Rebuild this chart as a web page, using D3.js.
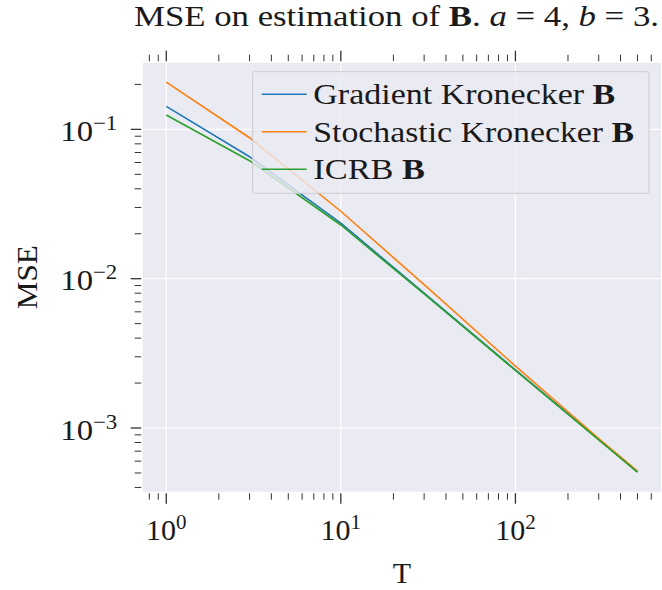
<!DOCTYPE html>
<html>
<head>
<meta charset="utf-8">
<script src="https://cdn.jsdelivr.net/npm/d3@7"></script>
<style>
  body { margin: 0; background: #fff; }
  text { font-family: "Liberation Serif", "DejaVu Serif", serif; fill: #1a1a1a; }
</style>
</head>
<body>
<div id="chart"></div>
<script>
// DATA
const T = [1, 3, 10, 30, 100, 300, 500];
const gradientB = [0.1426, 0.0656, 0.02355, 0.0080, 0.00245, 0.000838, 0.000508];
const stochasticB = [0.207, 0.0879, 0.0283, 0.00912, 0.0026, 0.000851, 0.000515];
const icrbB = [0.1247, 0.0617, 0.0229, 0.0079, 0.00243, 0.000832, 0.000506];

const seriesNames = ["Gradient Kronecker ", "Stochastic Kronecker ", "ICRB "];
const seriesColors = ["#1f77b4", "#ff7f0e", "#2ca02c"];
const seriesValues = [gradientB, stochasticB, icrbB];

const xMajorTicks = [1, 10, 100];
const xMajorExp = ["0", "1", "2"];
const yMajorTicks = [0.1, 0.01, 0.001];
const yMajorExp = ["\u22121", "\u22122", "\u22123"];

// SETUP
const width = 662, height = 590;
const margin = {top: 62.7, right: 1, bottom: 98.3, left: 142.7};
const fontSize = 30;

// widths the serif substitute is stretched to (the original face is wider)
const legendWidths = [302, 320.7, 111.7];

let svg = d3.select("#chart").append("svg")
  .attr("width", width)
  .attr("height", height);

// log domain with 5% padding, like matplotlib
const logPad = (lo, hi) => {
  let a = Math.log10(lo), b = Math.log10(hi), p = (b - a) * 0.05;
  return [Math.pow(10, a - p), Math.pow(10, b + p)];
};
const allY = [].concat(...seriesValues);

let x = d3.scaleLog()
  .domain(logPad(d3.min(T), d3.max(T)))
  .range([margin.left, width - margin.right]);

let y = d3.scaleLog()
  .domain(logPad(d3.min(allY), d3.max(allY)))
  .range([height - margin.bottom, margin.top]);

// all decade ticks (k * 10^e) inside a domain
const logTicks = (dom) => {
  let out = [];
  for (let e = Math.floor(Math.log10(dom[0])); e <= Math.ceil(Math.log10(dom[1])); e++) {
    for (let k = 1; k < 10; k++) {
      let v = k * Math.pow(10, e);
      if (v >= dom[0] && v <= dom[1]) out.push({v: v, major: k === 1});
    }
  }
  return out;
};
const xTicks = logTicks(x.domain());
const yTicks = logTicks(y.domain());

const plotL = x.range()[0], plotR = x.range()[1];
const plotT = y.range()[1], plotB = y.range()[0];

// background
svg.append("rect")
  .attr("x", plotL).attr("y", plotT)
  .attr("width", plotR - plotL).attr("height", plotB - plotT)
  .attr("fill", "#eaeaf2");

// grid
svg.selectAll("line.xgrid")
  .data(xMajorTicks)
  .enter().append("line")
  .attr("x1", d => x(d)).attr("x2", d => x(d))
  .attr("y1", plotT).attr("y2", plotB)
  .attr("stroke", "#fff").attr("stroke-width", 1.2);

svg.selectAll("line.ygrid")
  .data(yMajorTicks)
  .enter().append("line")
  .attr("y1", d => y(d)).attr("y2", d => y(d))
  .attr("x1", plotL).attr("x2", plotR)
  .attr("stroke", "#fff").attr("stroke-width", 1.2);

// ticks, outward on all four sides with a small gap
const gap = 1.5, majorLen = 10.5, minorLen = 6.5;
const tickColor = "#333";

// bottom + top
[[plotB + gap, 1], [plotT - gap, -1]].forEach(([y0, dir]) => {
  svg.append("g").selectAll("line")
    .data(xTicks)
    .enter().append("line")
    .attr("x1", d => x(d.v)).attr("x2", d => x(d.v))
    .attr("y1", y0)
    .attr("y2", d => y0 + dir * (d.major ? majorLen : minorLen))
    .attr("stroke", tickColor)
    .attr("stroke-width", d => d.major ? 1.3 : 1);
});
// left + right
[[plotL - gap, -1], [plotR + gap, 1]].forEach(([x0, dir]) => {
  svg.append("g").selectAll("line")
    .data(yTicks)
    .enter().append("line")
    .attr("y1", d => y(d.v)).attr("y2", d => y(d.v))
    .attr("x1", x0)
    .attr("x2", d => x0 + dir * (d.major ? majorLen : minorLen))
    .attr("stroke", tickColor)
    .attr("stroke-width", d => d.major ? 1.3 : 1);
});

// tick labels
let xLab = svg.selectAll("text.xtick")
  .data(xMajorTicks)
  .enter().append("text")
  .attr("class", "xtick")
  .attr("x", d => x(d))
  .attr("y", 540)
  .style("text-anchor", "middle")
  .style("font-size", fontSize + "px");
xLab.append("tspan").text("10");
xLab.append("tspan").attr("dy", -11).style("font-size", "21px").text((d, i) => xMajorExp[i]);

let yLab = svg.selectAll("text.ytick")
  .data(yMajorTicks)
  .enter().append("text")
  .attr("class", "ytick")
  .attr("x", 117.3)
  .attr("y", d => y(d) + 11.5)
  .style("text-anchor", "end")
  .style("font-size", fontSize + "px")
  .attr("textLength", 57)
  .attr("lengthAdjust", "spacingAndGlyphs");
yLab.append("tspan").text("10");
yLab.append("tspan").attr("dy", -11).style("font-size", "21px").text((d, i) => yMajorExp[i]);

// axis labels
svg.append("text")
  .attr("x", (plotL + plotR) / 2)
  .attr("y", 582.5)
  .style("text-anchor", "middle")
  .style("font-size", fontSize + "px")
  .text("T");

svg.append("text")
  .attr("transform", `translate(37, ${(plotT + plotB) / 2}) rotate(-90)`)
  .style("text-anchor", "middle")
  .style("font-size", fontSize + "px")
  .attr("textLength", 64)
  .attr("lengthAdjust", "spacingAndGlyphs")
  .text("MSE");

// title
let title = svg.append("text")
  .attr("x", 134)
  .attr("y", 26)
  .style("font-size", "29px")
  .attr("textLength", 525)
  .attr("lengthAdjust", "spacingAndGlyphs");
title.append("tspan").text("MSE on estimation of ");
title.append("tspan").style("font-weight", "bold").text("B");
title.append("tspan").text(". ");
title.append("tspan").style("font-style", "italic").text("a");
title.append("tspan").text(" = 4, ");
title.append("tspan").style("font-style", "italic").text("b");
title.append("tspan").text(" = 3.");

// lines
svg.append("clipPath").attr("id", "clip")
  .append("rect")
  .attr("x", plotL).attr("y", plotT)
  .attr("width", plotR - plotL).attr("height", plotB - plotT);

let line = d3.line()
  .x((d, i) => x(T[i]))
  .y(d => y(d));

svg.append("g").attr("clip-path", "url(#clip)")
  .selectAll("path")
  .data(seriesValues)
  .enter().append("path")
  .attr("d", d => line(d))
  .attr("fill", "none")
  .attr("stroke", (d, i) => seriesColors[i])
  .attr("stroke-width", 1.6);

// legend
let legend = svg.append("g");
legend.append("rect")
  .attr("x", 252.7).attr("y", 71.7)
  .attr("width", 396.3).attr("height", 121.6)
  .attr("rx", 2)
  .attr("fill", "#eaeaf2").attr("fill-opacity", 0.8)
  .attr("stroke", "#cccccc").attr("stroke-width", 1);

seriesNames.forEach((name, i) => {
  let ly = 94.3 + i * 37.5;
  legend.append("line")
    .attr("x1", 261.7).attr("x2", 306.7)
    .attr("y1", ly).attr("y2", ly)
    .attr("stroke", seriesColors[i]).attr("stroke-width", 1.6);
  let t = legend.append("text")
    .attr("x", 313.3).attr("y", ly + 10)
    .style("font-size", fontSize + "px")
    .attr("textLength", legendWidths[i])
    .attr("lengthAdjust", "spacingAndGlyphs");
  t.append("tspan").text(name);
  t.append("tspan").style("font-weight", "bold").text("B");
});
</script>
</body>
</html>
